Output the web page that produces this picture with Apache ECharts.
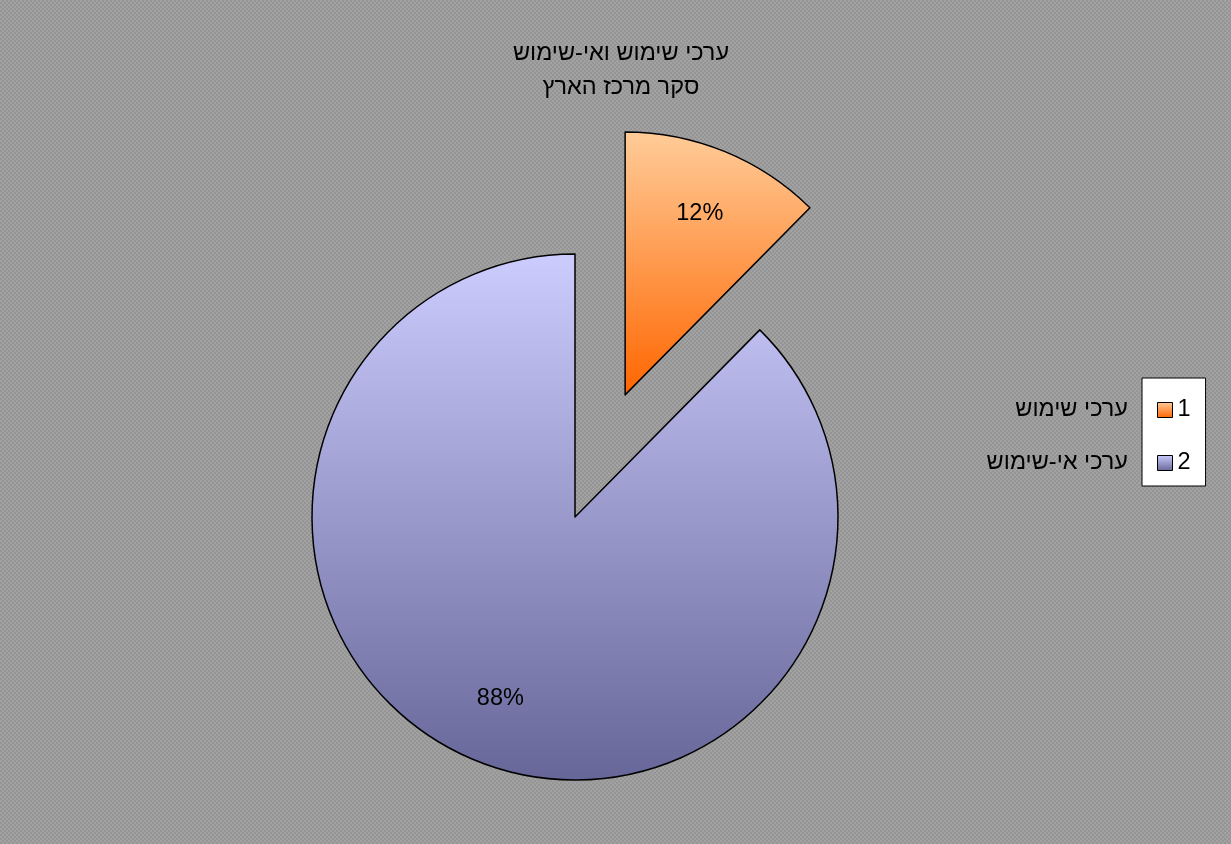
<!DOCTYPE html>
<html><head><meta charset="utf-8">
<script src="https://cdn.jsdelivr.net/npm/echarts@6/dist/echarts.min.js"></script>
<style>html,body{margin:0;padding:0;background:#fff}#c{width:1231px;height:844px}</style>
</head><body><div id="c"></div>
<script>
// ---- data ----
const titleLines = ['ערכי שימוש ואי-שימוש', 'סקר מרכז הארץ'];
const categories = ['1', '2'];
const categoryLabels = ['ערכי שימוש', 'ערכי אי-שימוש'];
const values = [12.4, 87.6];
const exploded = [true, false];

// ---- styles ----
const FONT = 'Arial, "Liberation Sans", sans-serif';
const FS = 23.5;
const gradStops = [['#FFCC99', '#FF6600'], ['#CCCCFF', '#666699']];
function grad(i) {
  return new echarts.graphic.LinearGradient(0, 0, 0, 1, [
    { offset: 0, color: gradStops[i][0] },
    { offset: 1, color: gradStops[i][1] }
  ]);
}
// background pattern
const pc = document.createElement('canvas');
pc.width = 4; pc.height = 4;
const pctx = pc.getContext('2d');
pctx.fillStyle = '#959595'; pctx.fillRect(0, 0, 4, 4);
pctx.fillStyle = '#a2a2a2'; pctx.fillRect(0, 0, 2, 2); pctx.fillRect(2, 2, 2, 2);

const CENTER = [575, 517];
const R = 263;
const OFFSET = 132;

const mainData = categories.map((c, i) => ({
  name: c, value: values[i], selected: exploded[i],
  itemStyle: { color: grad(i) }
}));
const labelData = categories.map((c, i) => ({
  name: c, value: values[i], selected: exploded[i]
}));

const chart = echarts.init(document.getElementById('c'), null, { renderer: 'canvas' });
chart.setOption({
  animation: false,
  backgroundColor: { image: pc, repeat: 'repeat' },
  title: {
    text: titleLines.join('\n'),
    left: 621, top: 37,
    textAlign: 'center',
    padding: 0,
    textStyle: { fontFamily: FONT, fontSize: FS, fontWeight: 'normal', color: '#000', lineHeight: 34 }
  },
  legend: [
    {
      orient: 'vertical',
      left: 1142, top: 378,
      padding: [20, 15, 11, 15],
      itemGap: 29,
      itemWidth: 15, itemHeight: 15,
      icon: 'rect',
      selectedMode: false,
      backgroundColor: '#fff',
      borderColor: '#000', borderWidth: 1,
      data: categories,
      itemStyle: { borderColor: '#000', borderWidth: 1 },
      textStyle: { fontFamily: FONT, fontSize: FS, color: '#000', lineHeight: 23 }
    },
    {
      orient: 'vertical',
      left: 1128 - 170 - 5, top: 398,
      padding: 0,
      itemGap: 29,
      itemWidth: 0, itemHeight: 0,
      icon: 'rect',
      selectedMode: false,
      itemStyle: { opacity: 0, borderWidth: 0 },
      data: categories,
      formatter: (name) => '{a|' + categoryLabels[categories.indexOf(name)] + '}',
      textStyle: {
        fontFamily: FONT, fontSize: FS, color: '#000', lineHeight: 23,
        rich: { a: { width: 170, align: 'right', fontFamily: FONT, fontSize: FS, color: '#000', lineHeight: 23 } }
      }
    }
  ],
  series: [
    {
      type: 'pie',
      center: CENTER,
      radius: R,
      startAngle: 90,
      clockwise: true,
      selectedMode: 'multiple',
      selectedOffset: OFFSET,
      silent: true,
      avoidLabelOverlap: false,
      label: { show: false },
      labelLine: { show: false },
      emphasis: { disabled: true },
      itemStyle: { borderColor: '#000', borderWidth: 1.5 },
      select: { itemStyle: { borderColor: '#000', borderWidth: 1.5 } },
      data: mainData
    },
    {
      type: 'pie',
      center: CENTER,
      radius: [124, R],
      startAngle: 90,
      clockwise: true,
      selectedMode: 'multiple',
      selectedOffset: OFFSET,
      silent: true,
      avoidLabelOverlap: false,
      percentPrecision: 0,
      itemStyle: { color: 'rgba(0,0,0,0)', borderWidth: 0 },
      select: { itemStyle: { color: 'rgba(0,0,0,0)', borderWidth: 0 } },
      emphasis: { disabled: true },
      label: {
        show: true, position: 'inside',
        formatter: '{d}%',
        fontFamily: FONT, fontSize: FS, color: '#000'
      },
      labelLine: { show: false },
      data: labelData
    }
  ]
});
</script>
</body></html>
